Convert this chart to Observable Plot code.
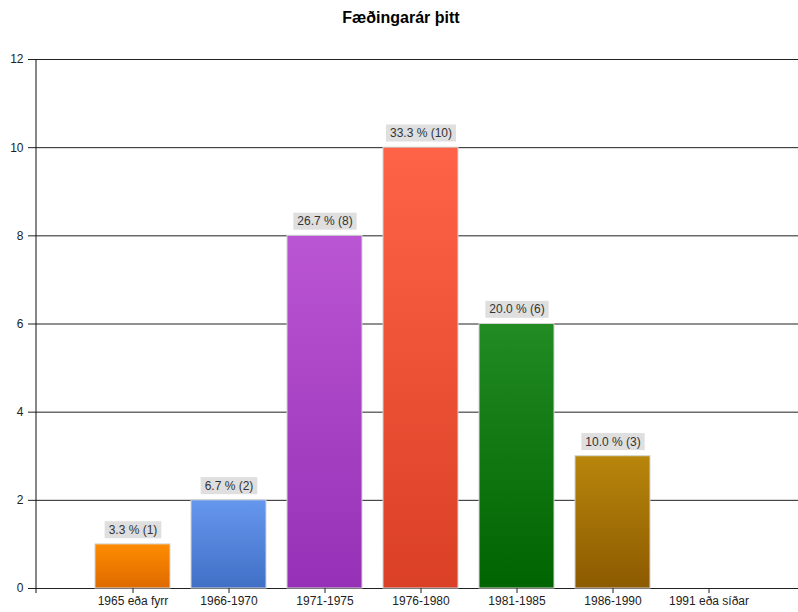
<!DOCTYPE html>
<html><head><meta charset="utf-8">
<script src="https://cdn.jsdelivr.net/npm/d3@7"></script>
<script src="https://cdn.jsdelivr.net/npm/@observablehq/plot@0.6"></script>
<style>
body{margin:0;background:#fff;font-family:"Liberation Sans",Arial,sans-serif}
#title{height:36px;line-height:36px;text-align:center;font-weight:bold;font-size:16px;color:#000;padding-left:4px}
</style></head><body>
<div id="title">Fæðingarár þitt</div>
<div id="chart"></div>
<script>
const categories = ["1965 eða fyrr","1966-1970","1971-1975","1976-1980","1981-1985","1986-1990","1991 eða síðar"];
const counts = [1,2,8,10,6,3,0];
const yTicks = [0,2,4,6,8,10,12];
const topColors = ["#FF8C00","#6697EE","#BA55D3","#FF6347","#228B22","#B8860B","#999999"];
const bottomColors = ["#DE6A00","#4070C6","#9630B6","#DA4026","#006400","#8C5A00","#777777"];

const total = d3.sum(counts);
const data = categories.map((c,i)=>({cat:c, count:counts[i]}));
const shown = data.filter(d=>d.count>0);

const defs = () => {
  const d = d3.create("svg:defs");
  categories.forEach((c,i)=>{
    const lg = d.append("linearGradient").attr("id","grad"+i)
      .attr("x1",0).attr("y1",0).attr("x2",0).attr("y2",1);
    lg.append("stop").attr("offset","0%").attr("stop-color",topColors[i]);
    lg.append("stop").attr("offset","100%").attr("stop-color",bottomColors[i]);
  });
  return d.node();
};

const yAxisLine = (index, scales, values, dims) => {
  const g = d3.create("svg:line")
    .attr("x1", dims.marginLeft).attr("x2", dims.marginLeft)
    .attr("y1", dims.marginTop).attr("y2", dims.height - dims.marginBottom + 5)
    .attr("stroke","#111").attr("stroke-width",1);
  return g.node();
};

const plot = Plot.plot({
  width: 798,
  height: 576,
  marginLeft: 36,
  marginRight: 0,
  marginTop: 23,
  marginBottom: 24,
  style: {fontFamily: "Liberation Sans, Arial, sans-serif", fontSize: "12px", color: "#222", background: "#fff"},
  x: {domain: categories, range: [84, 756], paddingInner: 0.22, paddingOuter: 0.11, label: null},
  y: {domain: [0, 12], label: null},
  color: {type: "ordinal", domain: categories, range: categories.map((c,i)=>`url(#grad${i})`)},
  marks: [
    defs,
    Plot.gridY(yTicks, {stroke: "#222", strokeOpacity: 1, strokeWidth: 1}),
    Plot.barY(shown, {x: "cat", y: "count", fill: "cat", stroke: "#d4d4d4", strokeWidth: 1}),
    Plot.text(shown, {x: "cat", y: "count", text: d => `${(d.count/total*100).toFixed(1)} % (${d.count})`,
      dy: -14.5, lineAnchor: "middle", fontSize: 12, fill: "#333"}),
    Plot.axisY(yTicks, {tickSize: 8, tickPadding: 5, fontSize: 12}),
    Plot.axisX({tickSize: 5, tickPadding: 3, fontSize: 12}),
    yAxisLine
  ]
});
document.getElementById("chart").appendChild(plot);

// label background boxes
d3.select(plot).selectAll('g[aria-label="text"] text').each(function(){
  const bb = this.getBBox();
  const padX = 4, padY = 1.5;
  d3.select(this.parentNode).insert("rect", () => this)
    .attr("transform", this.getAttribute("transform"))
    .attr("x", bb.x - padX).attr("y", bb.y - padY)
    .attr("width", bb.width + 2*padX).attr("height", bb.height + 2*padY)
    .attr("fill", "#dfdfdf");
});
</script>
</body></html>
